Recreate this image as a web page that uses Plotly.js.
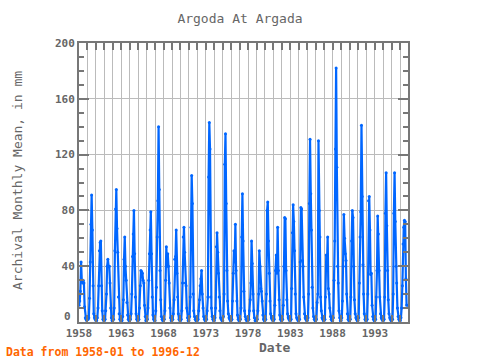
<!DOCTYPE html>
<html>
<head>
<meta charset="utf-8">
<script src="https://cdn.plot.ly/plotly-3.0.1.min.js"></script>
<style>html,body{margin:0;padding:0;background:#fff;}#chart{width:480px;height:360px;}</style>
</head>
<body>
<div id="chart"></div>
<script>
// Years covered and month numbers
const years = [1958,1959,1960,1961,1962,1963,1964,1965,1966,1967,1968,1969,1970,1971,1972,1973,1974,1975,1976,1977,1978,1979,1980,1981,1982,1983,1984,1985,1986,1987,1988,1989,1990,1991,1992,1993,1994,1995,1996];
const months = ["01","02","03","04","05","06","07","08","09","10","11","12"];
// Archival monthly mean (mm), Jan..Dec per year
const monthlyMm = [
  12, 15, 22, 43, 30, 28, 30, 28, 11, 3, 2, 1,      // 1958
  2, 2, 3, 17, 43, 70, 91, 66, 26, 6, 3, 2,         // 1959
  1, 1, 3, 10, 26, 51, 57, 58, 26, 8, 2, 1,         // 1960
  1, 2, 8, 20, 40, 45, 40, 40, 28, 10, 3, 1,        // 1961
  1, 2, 10, 51, 81, 95, 67, 50, 18, 6, 2, 1,        // 1962
  1, 1, 4, 16, 45, 61, 40, 30, 14, 5, 2, 1,         // 1963
  1, 2, 6, 20, 47, 63, 80, 49, 18, 6, 2, 1,         // 1964
  1, 2, 10, 26, 37, 36, 35, 30, 28, 12, 4, 1,       // 1965
  1, 2, 10, 30, 49, 66, 79, 49, 18, 5, 2, 1,        // 1966
  1, 8, 25, 61, 87, 140, 95, 37, 16, 4, 2, 1,       // 1967
  1, 2, 8, 30, 54, 40, 49, 40, 28, 10, 3, 1,        // 1968
  1, 2, 6, 16, 45, 47, 66, 35, 18, 6, 2, 1,         // 1969
  1, 2, 8, 28, 61, 68, 50, 28, 26, 10, 3, 1,        // 1970
  1, 4, 18, 68, 105, 85, 20, 8, 4, 2, 1, 1,         // 1971
  1, 2, 8, 16, 26, 31, 37, 20, 10, 4, 2, 1,         // 1972
  1, 2, 8, 18, 104, 143, 124, 18, 10, 4, 2, 1,      // 1973
  1, 3, 10, 54, 64, 50, 35, 18, 8, 3, 2, 1,         // 1974
  1, 4, 20, 113, 135, 85, 37, 15, 6, 3, 2, 1,       // 1975
  1, 2, 15, 35, 51, 43, 70, 37, 15, 5, 2, 1,        // 1976
  1, 2, 10, 61, 92, 58, 22, 8, 4, 2, 1, 1,          // 1977
  1, 2, 8, 16, 28, 58, 42, 20, 8, 3, 1, 1,          // 1978
  1, 2, 8, 20, 51, 40, 24, 22, 15, 5, 2, 1,         // 1979
  1, 2, 20, 80, 86, 58, 35, 15, 6, 3, 2, 1,         // 1980
  1, 2, 12, 37, 48, 35, 68, 37, 16, 5, 2, 1,        // 1981
  1, 2, 12, 40, 75, 74, 37, 16, 6, 3, 2, 1,         // 1982
  1, 2, 24, 64, 84, 72, 51, 20, 6, 3, 2, 1,         // 1983
  1, 2, 43, 82, 81, 44, 40, 18, 6, 3, 2, 1,         // 1984
  1, 3, 20, 85, 131, 92, 66, 25, 10, 4, 2, 1,       // 1985
  1, 2, 14, 20, 130, 80, 61, 18, 8, 3, 2, 1,        // 1986
  1, 2, 18, 48, 40, 61, 24, 20, 10, 4, 2, 1,        // 1987
  1, 3, 30, 58, 124, 182, 111, 40, 28, 8, 3, 1,     // 1988
  1, 3, 15, 40, 77, 60, 49, 44, 20, 6, 2, 1,        // 1989
  1, 2, 18, 58, 80, 75, 40, 16, 6, 3, 2, 1,         // 1990
  1, 3, 28, 61, 79, 141, 90, 41, 20, 6, 2, 1,       // 1991
  1, 2, 20, 87, 90, 66, 34, 35, 12, 4, 2, 1,        // 1992
  1, 2, 18, 37, 76, 63, 37, 18, 6, 3, 2, 1,         // 1993
  1, 2, 18, 78, 107, 69, 37, 16, 6, 3, 2, 1,        // 1994
  1, 2, 20, 78, 107, 72, 40, 28, 10, 4, 2, 1,       // 1995
  1, 3, 10, 26, 56, 68, 73, 72, 31, 12, null, 12    // 1996
];
const yTickVals = [40, 80, 120, 160, 200];
const yZeroLabel = "0";
const xTickLabels = ["1958","1963","1968","1973","1978","1983","1988","1993"];

const dates = [];
years.forEach(y => months.forEach(m => dates.push(y + "-" + m + "-01")));

const mono = "DejaVu Sans Mono, monospace";
const gray = "#666666";

const trace = {
  x: dates, y: monthlyMm, type: "scatter", mode: "lines+markers",
  line: {color: "#0066ff", width: 2.2},
  marker: {color: "#0066ff", size: 3},
  connectgaps: false, hoverinfo: "skip"
};

const layout = {
  width: 480, height: 360,
  margin: {l: 79, r: 72, t: 43, b: 38},
  paper_bgcolor: "#ffffff", plot_bgcolor: "#ffffff",
  showlegend: false,
  title: {text: "Argoda At Argada", font: {family: mono, size: 13, color: gray},
          x: 0.5, xanchor: "center", y: 1 - 18/360, yanchor: "middle", yref: "container"},
  xaxis: {
    type: "date", range: ["1958-01-01", "1996-12-01"],
    tickvals: xTickLabels.map(s => s + "-01-01"), ticktext: xTickLabels,
    ticks: "inside", ticklen: 7, tickwidth: 2, tickcolor: "#777",
    showgrid: true, gridcolor: "#bbbbbb", gridwidth: 1,
    minor: {dtick: "M12", tick0: "1958-01-01", ticks: "inside", ticklen: 7, tickwidth: 2,
            tickcolor: "#777", showgrid: true, gridcolor: "#bbbbbb", gridwidth: 1},
    showline: true, linecolor: "#777", linewidth: 2, mirror: "allticks",
    tickfont: {family: mono, size: 11, color: gray, weight: "bold"},
    zeroline: false, fixedrange: true
  },
  yaxis: {
    range: [0, 200], tickvals: yTickVals,
    ticks: "inside", ticklen: 10, tickwidth: 2, tickcolor: "#777",
    showgrid: true, gridcolor: "#bbbbbb", gridwidth: 1,
    minor: {dtick: 10, ticks: "inside", ticklen: 5, tickwidth: 2, tickcolor: "#777", showgrid: false},
    showline: true, linecolor: "#777", linewidth: 2, mirror: "allticks",
    tickfont: {family: mono, size: 11, color: gray, weight: "bold"},
    zeroline: false, fixedrange: true
  },
  annotations: [
    {text: yZeroLabel, xref: "paper", yref: "paper", x: (73 - 79) / 329, y: (322 - 316) / 279,
     xanchor: "right", yanchor: "middle", showarrow: false,
     font: {family: mono, size: 11, color: gray, weight: "bold"}},
    {text: "Date", xref: "paper", yref: "paper", x: (274.5 - 79) / 329, y: -(347 - 322) / 279,
     xanchor: "center", yanchor: "middle", showarrow: false,
     font: {family: mono, size: 13, color: gray, weight: "bold"}},
    {text: "Archival Monthly Mean, in mm", xref: "paper", yref: "paper",
     x: (17 - 79) / 329, y: (322 - 181) / 279, textangle: -90,
     xanchor: "center", yanchor: "middle", showarrow: false,
     font: {family: mono, size: 13, color: gray}},
    {text: "Data from 1958-01 to 1996-12", xref: "paper", yref: "paper",
     x: (4 - 79) / 329, y: -(352 - 322) / 279, xanchor: "left", yanchor: "middle",
     showarrow: false, font: {family: mono, size: 11.5, color: "#ff6600", weight: "bold"}}
  ]
};

Plotly.newPlot("chart", [trace], layout, {displayModeBar: false, staticPlot: true});
</script>
</body>
</html>
